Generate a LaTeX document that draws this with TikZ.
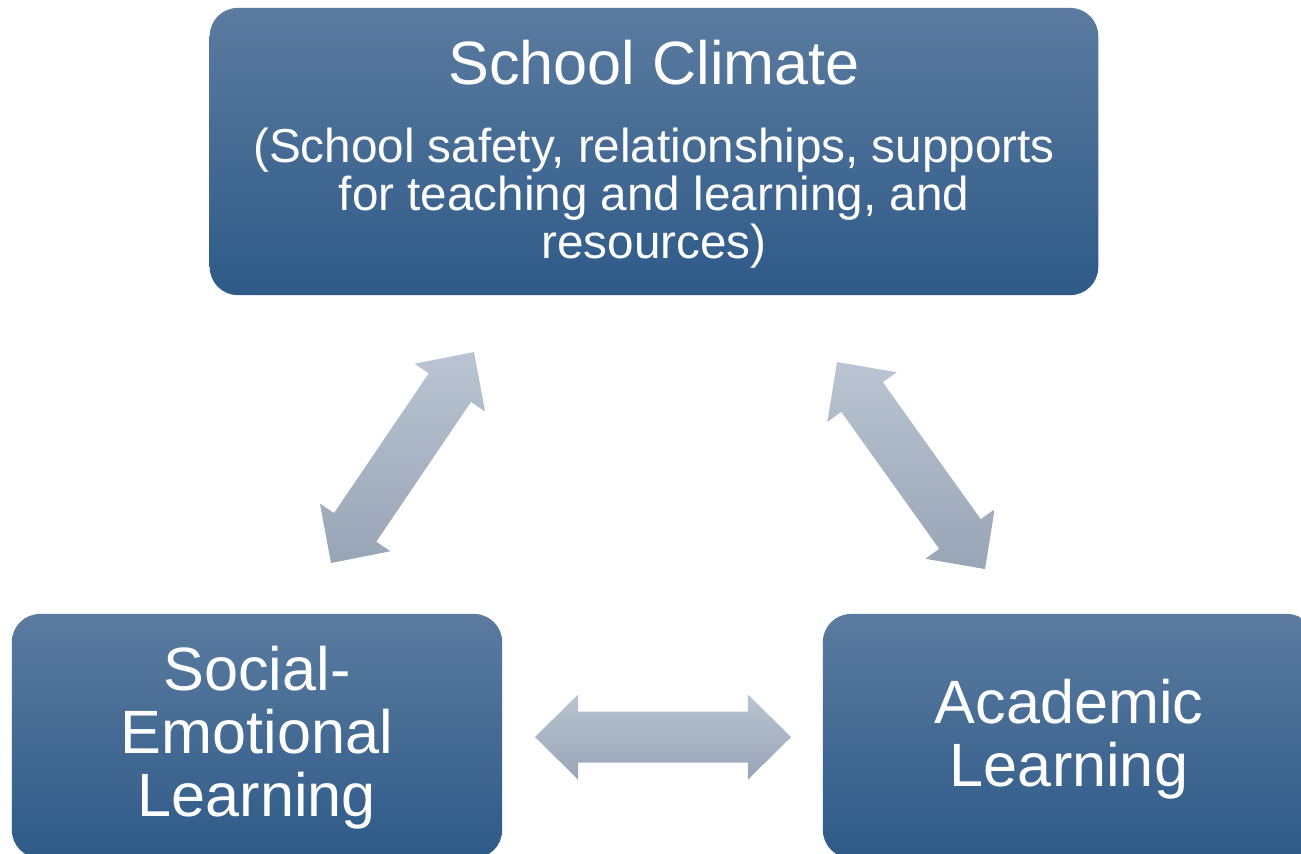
\documentclass[tikz,border=0pt]{standalone}
\usepackage{fontspec}
\setmainfont{Liberation Sans}
\usetikzlibrary{calc}
\definecolor{boxtop}{HTML}{5B7B9F}
\definecolor{boxbot}{HTML}{2E5A88}
\definecolor{arrtop}{HTML}{BAC4D2}
\definecolor{arrbot}{HTML}{98A5B6}
\newcommand{\blockarrow}[2]{%
 \path[arrowshape] let \p1=($(#2)-(#1)$), \n1={atan2(\y1,\x1)} in
 (#1) -- ($(#1)+(\n1:0.43cm)+(\n1+90:0.425cm)$)
      -- ($(#1)+(\n1:0.43cm)+(\n1+90:0.255cm)$)
      -- ($(#2)+(\n1+180:0.43cm)+(\n1+90:0.255cm)$)
      -- ($(#2)+(\n1+180:0.43cm)+(\n1+90:0.425cm)$)
      -- (#2)
      -- ($(#2)+(\n1+180:0.43cm)+(\n1-90:0.425cm)$)
      -- ($(#2)+(\n1+180:0.43cm)+(\n1-90:0.255cm)$)
      -- ($(#1)+(\n1:0.43cm)+(\n1-90:0.255cm)$)
      -- ($(#1)+(\n1:0.43cm)+(\n1-90:0.425cm)$) -- cycle;}
\tikzset{
  box/.style={rounded corners=0.28cm, top color=boxtop, bottom color=boxbot, draw=none, inner sep=0pt},
  arrowshape/.style={top color=arrtop, bottom color=arrbot, draw=none},
  bigtext/.style={text=white, align=center, inner sep=0pt, font=\fontsize{17.4pt}{17.9pt}\selectfont},
  smalltext/.style={text=white, align=center, inner sep=0pt, font=\fontsize{13.55pt}{13.6pt}\selectfont},
}
\begin{document}
\begin{tikzpicture}[x=0.01cm, y=-0.01cm]
\useasboundingbox (0,0) rectangle (1301,853);
\clip (0,0) rectangle (1301,853);
\fill[white] (0,0) rectangle (1301,853);
% boxes
\node[box, minimum width=8.88cm, minimum height=2.87cm] (climate) at (654,151.5) {};
\node[box, minimum width=4.90cm, minimum height=2.44cm] (sel) at (257,736) {};
\node[box, minimum width=4.92cm, minimum height=2.44cm] (acad) at (1069,736) {};
% texts
\node[bigtext, anchor=base] (climatetitle) at (654,84) {School Climate};
\node[smalltext] (climatesub) at (654,198) {(School safety, relationships, supports\\for teaching and learning, and\\resources)};
\node[bigtext] (seltext) at (257,738) {Social-\\Emotional\\Learning};
\node[bigtext] (acadtext) at (1069,739) {Academic\\Learning};
% arrow ends
\coordinate (l1) at (331,563);
\coordinate (l2) at (474,352);
\coordinate (r1) at (837,362);
\coordinate (r2) at (985,569);
\coordinate (h1) at (535,737);
\coordinate (h2) at (791,737);
\blockarrow{l1}{l2}
\blockarrow{r1}{r2}
\blockarrow{h1}{h2}
\end{tikzpicture}
\end{document}
